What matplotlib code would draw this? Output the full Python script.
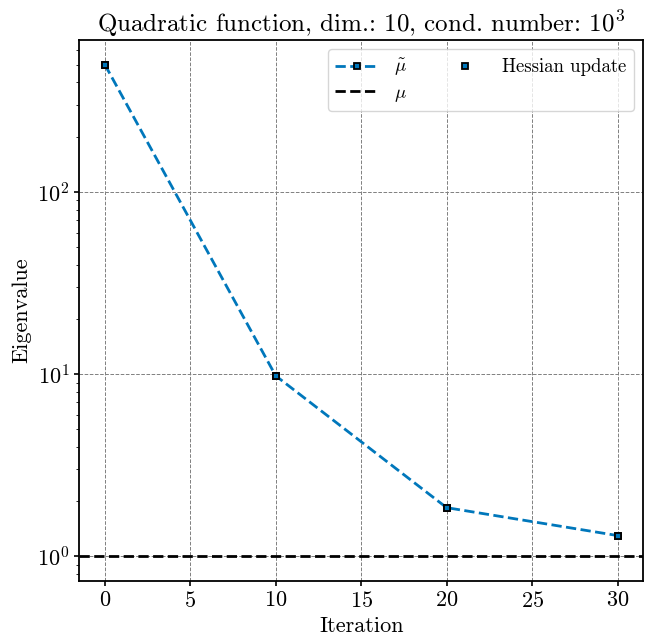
import matplotlib
matplotlib.use("Agg")
import matplotlib.pyplot as plt

plt.rcParams.update({
    "font.family": "serif",
    "font.serif": ["cmr10"],
    "mathtext.fontset": "cm",
    "axes.formatter.use_mathtext": True,
    "axes.unicode_minus": False,
})

iterations = [0, 10, 20, 30]
mu_tilde = [502, 9.8, 1.85, 1.30]
mu_true = 1.0

fig, ax = plt.subplots(figsize=(6.49, 6.44), dpi=100)
l1, = ax.plot(iterations, mu_tilde, linestyle="--", color="#0077BB", lw=2,
              marker="s", markersize=5, markerfacecolor="#0077BB",
              markeredgecolor="black", markeredgewidth=1.3, label=r"$\tilde{\mu}$")
l3, = ax.plot(iterations, mu_tilde, linestyle="none", marker="s", markersize=5,
              markerfacecolor="#0077BB", markeredgecolor="black",
              markeredgewidth=1.3, label="Hessian update")
l2 = ax.axhline(mu_true, color="black", linestyle="--", lw=2, label=r"$\mu$")
ax.set_yscale("log")
ax.grid(True, which="major", color="gray", linestyle="--", lw=0.7)
ax.set_xlabel("Iteration", fontsize=16)
ax.set_ylabel("Eigenvalue", fontsize=16)
ax.set_title(r"Quadratic function, dim.: 10, cond. number: $10^3$", fontsize=18)
ax.tick_params(labelsize=16, width=1.2)
for s in ax.spines.values():
    s.set_linewidth(1.3)
ax.legend(handles=[l1, l2, l3], ncol=2, loc="upper right", fontsize=13.5,
          handlelength=2.3, borderaxespad=0.5, labelspacing=0.3)
fig.subplots_adjust(left=0.122, right=0.991, top=0.938, bottom=0.098)
fig.savefig("out.png", dpi=100)
